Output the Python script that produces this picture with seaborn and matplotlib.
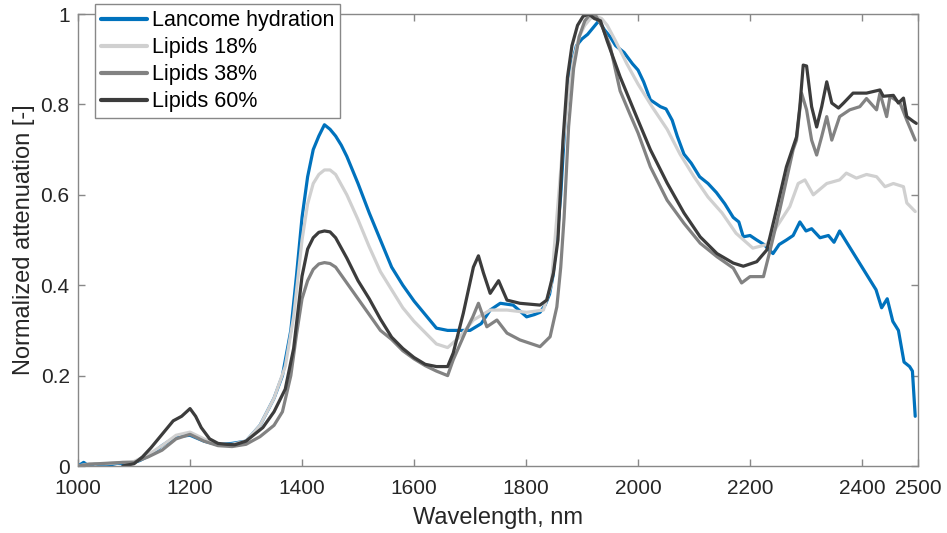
import matplotlib
matplotlib.use("Agg")
import matplotlib.pyplot as plt
import pandas as pd
import seaborn as sns

labels = ["Lancome hydration", "Lipids 18%", "Lipids 38%", "Lipids 60%"]
colors = ["#0072BD", "#d0d0d0", "#828282", "#3c3c3c"]

wl_lancome = [1000, 1010, 1020, 1030, 1050, 1070, 1090, 1110, 1130, 1150, 1175, 1200, 1225, 1250, 1275,
              1300, 1325, 1350, 1365, 1380, 1390, 1400, 1410, 1420, 1430, 1440, 1450, 1460, 1470, 1480,
              1490, 1500, 1520, 1540, 1560, 1580, 1600, 1620, 1640, 1660, 1680, 1700, 1720, 1736, 1754,
              1777, 1801, 1815, 1825, 1834, 1842, 1848, 1855, 1862, 1870, 1880, 1890, 1900, 1910, 1920,
              1930, 1940, 1950, 1960, 1975, 1990, 2000, 2010, 2022, 2040, 2050, 2061, 2070, 2082, 2095,
              2110, 2125, 2140, 2155, 2170, 2180, 2188, 2200, 2212, 2225, 2241, 2252, 2265, 2277, 2289,
              2300, 2310, 2325, 2340, 2350, 2360, 2375, 2385, 2400, 2410, 2425, 2435, 2445, 2455, 2465,
              2475, 2485, 2490, 2495]
lancome = [0.0, 0.008, 0.0, 0.005, 0.0, 0.006, 0.004, 0.012, 0.025, 0.045, 0.065, 0.068, 0.055, 0.047, 0.05,
           0.055, 0.09, 0.15, 0.2, 0.3, 0.42, 0.55, 0.64, 0.7, 0.73, 0.755, 0.745, 0.73, 0.71, 0.685,
           0.655, 0.625, 0.56, 0.5, 0.44, 0.4, 0.365, 0.335, 0.305, 0.3, 0.3, 0.3, 0.315, 0.345, 0.36,
           0.356, 0.33, 0.335, 0.34, 0.356, 0.38, 0.42, 0.5, 0.6, 0.77, 0.88, 0.93, 0.945, 0.955, 0.97,
           0.985, 0.965, 0.95, 0.93, 0.915, 0.89, 0.876, 0.85, 0.81, 0.795, 0.79, 0.765, 0.73, 0.69, 0.67,
           0.64, 0.625, 0.605, 0.58, 0.55, 0.54, 0.507, 0.51, 0.5, 0.49, 0.47, 0.49, 0.5, 0.51, 0.54,
           0.52, 0.525, 0.505, 0.51, 0.495, 0.52, 0.49, 0.47, 0.44, 0.42, 0.39, 0.35, 0.37, 0.32, 0.3,
           0.23, 0.22, 0.21, 0.11]

wl_18 = [1000, 1020, 1050, 1080, 1100, 1125, 1150, 1175, 1200, 1225, 1250, 1275, 1300, 1325, 1350, 1370,
         1385, 1400, 1410, 1420, 1430, 1440, 1450, 1460, 1480, 1500, 1520, 1540, 1560, 1580, 1600, 1620,
         1640, 1660, 1682, 1706, 1736, 1766, 1801, 1831, 1845, 1855, 1865, 1875, 1885, 1895, 1905, 1915,
         1925, 1935, 1945, 1960, 1980, 2000, 2025, 2052, 2075, 2100, 2125, 2150, 2175, 2205, 2230, 2248,
         2271, 2286, 2298, 2313, 2337, 2360, 2372, 2390, 2408, 2426, 2441, 2456, 2474, 2480, 2495]
lipids18 = [0.0, 0.005, 0.005, 0.008, 0.01, 0.025, 0.045, 0.068, 0.075, 0.06, 0.047, 0.048, 0.055, 0.09,
            0.15, 0.22, 0.33, 0.5, 0.58, 0.625, 0.645, 0.655, 0.655, 0.645, 0.6, 0.545, 0.485, 0.43, 0.39,
            0.35, 0.32, 0.295, 0.27, 0.262, 0.286, 0.323, 0.345, 0.345, 0.34, 0.345, 0.4, 0.55, 0.7, 0.82,
            0.9, 0.95, 0.975, 0.99, 0.995, 0.99, 0.975, 0.94, 0.89, 0.845, 0.795, 0.745, 0.69, 0.64, 0.595,
            0.56, 0.515, 0.482, 0.49, 0.53, 0.574, 0.625, 0.633, 0.6, 0.625, 0.633, 0.648, 0.637, 0.645,
            0.64, 0.618, 0.625, 0.618, 0.582, 0.563]

wl_38 = [1000, 1020, 1050, 1080, 1100, 1125, 1150, 1175, 1200, 1225, 1250, 1275, 1300, 1325, 1350, 1365,
         1380, 1390, 1400, 1410, 1420, 1430, 1440, 1450, 1460, 1480, 1500, 1520, 1540, 1560, 1580, 1600,
         1620, 1640, 1660, 1670, 1693, 1705, 1715, 1730, 1748, 1766, 1789, 1825, 1843, 1855, 1862, 1868,
         1876, 1885, 1895, 1905, 1915, 1925, 1935, 1950, 1968, 1985, 2000, 2022, 2052, 2082, 2111, 2141,
         2170, 2185, 2200, 2224, 2236, 2253, 2277, 2283, 2292, 2301, 2310, 2319, 2328, 2337, 2346, 2360,
         2378, 2396, 2408, 2426, 2432, 2444, 2450, 2468, 2480, 2495]
lipids38 = [0.0, 0.004, 0.006, 0.008, 0.008, 0.02, 0.035, 0.06, 0.07, 0.055, 0.045, 0.043, 0.048, 0.065,
            0.09, 0.12, 0.2, 0.29, 0.37, 0.41, 0.435, 0.447, 0.45, 0.448, 0.44, 0.405, 0.37, 0.335, 0.3,
            0.28, 0.255, 0.237, 0.222, 0.21, 0.2, 0.235, 0.3, 0.33, 0.36, 0.308, 0.323, 0.294, 0.279,
            0.264, 0.286, 0.352, 0.44, 0.55, 0.75, 0.88, 0.95, 0.985, 1.0, 0.995, 0.975, 0.93, 0.83, 0.78,
            0.737, 0.662, 0.588, 0.537, 0.493, 0.463, 0.438, 0.405, 0.419, 0.419, 0.478, 0.566, 0.7,
            0.721, 0.825, 0.788, 0.721, 0.688, 0.729, 0.773, 0.721, 0.773, 0.788, 0.795, 0.813, 0.788,
            0.825, 0.773, 0.818, 0.803, 0.765, 0.721]

wl_60 = [1080, 1100, 1115, 1130, 1150, 1170, 1185, 1200, 1210, 1220, 1235, 1250, 1265, 1280, 1300, 1330,
         1350, 1370, 1385, 1400, 1410, 1420, 1430, 1440, 1450, 1460, 1480, 1500, 1520, 1540, 1560, 1580,
         1600, 1620, 1640, 1660, 1670, 1688, 1706, 1715, 1724, 1736, 1751, 1766, 1789, 1825, 1837, 1849,
         1857, 1866, 1874, 1882, 1892, 1902, 1912, 1922, 1933, 1945, 1968, 2000, 2022, 2052, 2082, 2111,
         2141, 2170, 2188, 2212, 2230, 2247, 2265, 2283, 2289, 2295, 2301, 2310, 2319, 2328, 2337, 2346,
         2358, 2367, 2384, 2408, 2432, 2438, 2456, 2465, 2474, 2480, 2492, 2497]
lipids60 = [0.0, 0.005, 0.02, 0.04, 0.07, 0.1, 0.11, 0.127, 0.11, 0.085, 0.06, 0.05, 0.048, 0.047, 0.055,
            0.085, 0.12, 0.17, 0.26, 0.42, 0.48, 0.505, 0.517, 0.52, 0.518, 0.505, 0.46, 0.41, 0.37,
            0.325, 0.285, 0.26, 0.24, 0.225, 0.22, 0.22, 0.25, 0.338, 0.44, 0.465, 0.427, 0.382, 0.41,
            0.367, 0.36, 0.356, 0.367, 0.427, 0.5, 0.72, 0.86, 0.93, 0.975, 0.995, 1.0, 0.99, 0.985, 0.94,
            0.861, 0.765, 0.7, 0.626, 0.56, 0.507, 0.47, 0.449, 0.442, 0.452, 0.478, 0.566, 0.662, 0.728,
            0.795, 0.887, 0.885, 0.795, 0.75, 0.795, 0.85, 0.803, 0.792, 0.803, 0.825, 0.825, 0.832,
            0.818, 0.82, 0.803, 0.814, 0.773, 0.762, 0.758]

xticks = [1000, 1200, 1400, 1600, 1800, 2000, 2200, 2400, 2500]
yticks = [0, 0.2, 0.4, 0.6, 0.8, 1]

frames = []
for lab, w, v in zip(labels, [wl_lancome, wl_18, wl_38, wl_60], [lancome, lipids18, lipids38, lipids60]):
    frames.append(pd.DataFrame({"wl": w, "att": v, "sample": lab}))
df = pd.concat(frames, ignore_index=True)

sns.set_style("white")
plt.rcParams["font.family"] = ["Liberation Sans", "DejaVu Sans"]

fig = plt.figure(figsize=(9.47, 5.33), dpi=100)
ax = fig.add_axes([0.0824, 0.1257, 0.8870, 0.8480])

sns.lineplot(data=df, x="wl", y="att", hue="sample", hue_order=labels, palette=colors,
             estimator=None, sort=False, linewidth=2.3, ax=ax)

ax.set_xlim(1000, 2500)
ax.set_ylim(0, 1)
ax.set_xticks(xticks)
ax.set_xticklabels([str(t) for t in xticks])
ax.set_yticks(yticks)
ax.set_yticklabels(["%g" % t for t in yticks])
ax.tick_params(direction="in", length=5, width=1, colors="#888888", labelcolor="#262626",
               labelsize=15, top=True, right=True, bottom=True, left=True)
ax.tick_params(axis="x", pad=9)
ax.tick_params(axis="y", pad=6)
for s in ax.spines.values():
    s.set_visible(True)
    s.set_color("#888888")
    s.set_linewidth(1)

ax.set_xlabel("Wavelength, nm", fontsize=17, color="#262626", labelpad=7)
ax.set_ylabel("Normalized attenuation [-]", fontsize=17, color="#262626", labelpad=4)

leg = ax.legend(loc="upper left", bbox_to_anchor=(0.0202, 1.022), borderaxespad=0,
                fontsize=15.5, frameon=True, fancybox=False, framealpha=1,
                edgecolor="#888888", handlelength=2.15, handletextpad=0.2,
                labelspacing=0.28, borderpad=0.28, title=None)
leg.get_frame().set_linewidth(1)
for line in leg.get_lines():
    line.set_linewidth(3)
for t in leg.get_texts():
    t.set_color("#000000")

fig.savefig("out.png", dpi=100)
